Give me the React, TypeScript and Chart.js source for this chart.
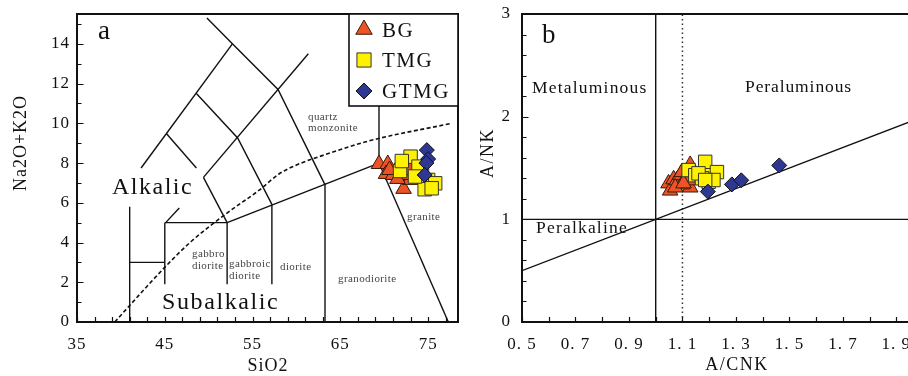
import React, { useEffect, useRef } from 'react';
import { Chart, registerables } from 'chart.js';

Chart.register(...registerables);

const FONT = "'Liberation Serif', 'Times New Roman', Times, serif";

// ---------------- Panel a : TAS (SiO2 vs Na2O+K2O) ----------------
const A_X_TICKS = [35, 45, 55, 65, 75];
const A_Y_TICKS = [0, 2, 4, 6, 8, 10, 12, 14];

const BG_SIO2 = [69.4, 70.4, 71.75, 70.2, 71.0, 72.2, 72.95, 73.3, 70.6, 72.5, 72.9, 71.5];
const BG_ALK = [7.95, 7.95, 7.95, 7.45, 7.4, 6.7, 7.15, 7.4, 7.65, 7.4, 7.65, 7.2];

const TMG_SIO2 = [73.0, 71.8, 74.3, 75.0, 75.8, 74.6, 75.4, 73.9, 72.0, 73.5];
const TMG_ALK = [8.32, 7.6, 7.49, 7.15, 6.98, 6.68, 6.73, 7.82, 8.1, 7.32];

const GTMG_SIO2 = [74.85, 75.0, 74.8, 74.6];
const GTMG_ALK = [8.65, 8.2, 8.0, 7.4];

// field boundaries (SiO2, Na2O+K2O)
const TAS_L1 = [[42.3, 7.75], [52.7, 14.0]];
const TAS_L2 = [[49.8, 15.3], [52.7, 14.0], [57.9, 11.7], [63.2, 6.95]];
const TAS_L3 = [[45.2, 9.47], [48.6, 7.75]];
const TAS_L4 = [[48.6, 11.5], [53.3, 9.26], [57.2, 5.92]];
const TAS_L5 = [[49.4, 7.28], [61.35, 13.5]];
const TAS_L6 = [[49.4, 7.28], [52.1, 5.0]];
const TAS_L7 = [[45.0, 5.0], [52.1, 5.0]];
const TAS_L8 = [[45.1, 5.0], [46.65, 5.74]];
const TAS_L9 = [[52.1, 5.0], [69.4, 8.0]];
const TAS_V41 = [[41, 0], [41, 5.8]];
const TAS_H3 = [[41, 3], [45, 3]];
const TAS_V45 = [[45, 1.9], [45, 5]];
const TAS_V52 = [[52.1, 1.9], [52.1, 5]];
const TAS_V57 = [[57.2, 1.9], [57.2, 5.92]];
const TAS_V63 = [[63.25, 0], [63.25, 6.98]];
const TAS_V69 = [[69.4, 8.0], [69.4, 12]];
const TAS_L17 = [[69.4, 8.0], [77.3, 0]];
const TAS_SOLID = [TAS_L1, TAS_L2, TAS_L3, TAS_L4, TAS_L5, TAS_L6, TAS_L7, TAS_L8, TAS_L9,
  TAS_V41, TAS_H3, TAS_V45, TAS_V52, TAS_V57, TAS_V63, TAS_V69, TAS_L17];
// Irvine & Baragar alkalic / subalkalic divide (dashed)
const IB_SIO2 = [39.3, 43.3, 45.1, 48.0, 52.05, 55.8, 58.0, 60.0, 63.8, 68.4, 77.7];
const IB_ALK = [0, 1.95, 2.8, 4.05, 5.47, 6.65, 7.45, 7.9, 8.5, 9.13, 10.0];

// ---------------- Panel b : A/NK vs A/CNK ----------------
const B_X_TICKS = [0.5, 0.7, 0.9, 1.1, 1.3, 1.5, 1.7, 1.9];
const B_Y_TICKS = [0, 1, 2, 3];

const BG_ACNK = [1.048, 1.054, 1.067, 1.079, 1.092, 1.098, 1.129, 1.129, 1.098, 1.073, 1.123, 1.104];
const BG_ANK = [1.35, 1.28, 1.39, 1.38, 1.43, 1.46, 1.53, 1.31, 1.34, 1.31, 1.38, 1.35];

const TMG_ACNK = [1.123, 1.185, 1.148, 1.204, 1.229, 1.198, 1.216, 1.173, 1.16, 1.185];
const TMG_ANK = [1.48, 1.56, 1.43, 1.43, 1.46, 1.366, 1.383, 1.40, 1.448, 1.383];

const GTMG_ACNK = [1.195, 1.285, 1.32, 1.462];
const GTMG_ANK = [1.27, 1.34, 1.38, 1.525];

const B_V1 = [[1.0, 0], [1.0, 3]];
const B_H1 = [[0.5, 1.0], [2.0, 1.0]];
const B_DIAG = [[0.5, 0.5], [2.0, 2.0]];
const B_DOT = [[1.1, 0], [1.1, 3]];

// ---------------- styles ----------------
const TRI_FILL = '#EC5428';
const SQ_FILL = '#FFF200';
const DIA_FILL = '#2E3891';

const zip = (xs: number[], ys: number[]) => xs.map((x, i) => ({ x, y: ys[i] }));
const pts = (arr: number[][]) => arr.map(([x, y]) => ({ x, y }));

function lineDs(arr: number[][], extra: any = {}) {
  return {
    data: pts(arr), showLine: true, pointRadius: 0, borderColor: '#111', borderWidth: 1.4,
    backgroundColor: 'transparent', fill: false, tension: 0, order: 10, ...extra,
  };
}

function markerSets(x1: number[], y1: number[], x2: number[], y2: number[], x3: number[], y3: number[]) {
  return [
    { label: 'BG', data: zip(x1, y1), pointStyle: 'triangle', pointRadius: 9, backgroundColor: TRI_FILL, borderColor: '#3a1a0a', borderWidth: 1, order: 3 },
    { label: 'TMG', data: zip(x2, y2), pointStyle: 'rect', pointRadius: 9.5, backgroundColor: SQ_FILL, borderColor: '#333', borderWidth: 1, order: 2 },
    { label: 'GTMG', data: zip(x3, y3), pointStyle: 'rectRot', pointRadius: 7.5, backgroundColor: DIA_FILL, borderColor: '#111', borderWidth: 1, order: 1 },
  ];
}

type TextItem = { text: string; x: number; y: number; size: number; color?: string; spacing?: number; rotate?: number; align?: CanvasTextAlign; baseline?: CanvasTextBaseline };

function drawText(ctx: any, t: TextItem) {
  ctx.save();
  ctx.font = `${t.size}px ${FONT}`;
  ctx.fillStyle = t.color || '#111';
  ctx.letterSpacing = `${t.spacing || 0}px`;
  ctx.textAlign = t.align || 'left';
  ctx.textBaseline = t.baseline || 'alphabetic';
  if (t.rotate) {
    ctx.translate(t.x, t.y);
    ctx.rotate(t.rotate);
    ctx.fillText(t.text, 0, 0);
  } else {
    ctx.fillText(t.text, t.x, t.y);
  }
  ctx.restore();
}

function drawMarker(ctx: any, style: string, x: number, y: number, r: number, fill: string, stroke: string) {
  ctx.save();
  ctx.beginPath();
  if (style === 'triangle') {
    ctx.moveTo(x, y - r);
    ctx.lineTo(x + Math.sin(2 * Math.PI / 3) * r, y + r / 2);
    ctx.lineTo(x - Math.sin(2 * Math.PI / 3) * r, y + r / 2);
  } else if (style === 'rect') {
    const s = Math.SQRT1_2 * r;
    ctx.rect(x - s, y - s, 2 * s, 2 * s);
  } else {
    ctx.moveTo(x - r, y); ctx.lineTo(x, y - r); ctx.lineTo(x + r, y); ctx.lineTo(x, y + r);
  }
  ctx.closePath();
  ctx.fillStyle = fill; ctx.fill();
  ctx.lineWidth = 1; ctx.strokeStyle = stroke; ctx.stroke();
  ctx.restore();
}

type Deco = {
  xMinorStep: number; yMinorStep: number; xMajor: number[]; yMajor: number[];
  drawRight: boolean; texts: TextItem[]; legend?: boolean;
};

function decoPlugin(d: Deco) {
  return {
    id: 'deco',
    beforeDraw(chart: any) {
      (chart.ctx as any).letterSpacing = '1px';
      const ctx = chart.ctx;
      ctx.save();
      ctx.fillStyle = '#fff';
      ctx.fillRect(0, 0, chart.width, chart.height);
      ctx.restore();
    },
    afterDraw(chart: any) {
      const ctx = chart.ctx;
      const xs = chart.scales.x, ys = chart.scales.y;
      const a = chart.chartArea;
      ctx.save();
      ctx.strokeStyle = '#111';
      // minor & major ticks, inward
      ctx.lineWidth = 1.2;
      ctx.beginPath();
      const eps = 1e-6;
      for (let v = xs.min; v <= xs.max + eps; v += d.xMinorStep) {
        const p = Math.round(xs.getPixelForValue(v)) + 0.5;
        ctx.moveTo(p, a.bottom); ctx.lineTo(p, a.bottom - 5);
      }
      for (let v = ys.min; v <= ys.max + eps; v += d.yMinorStep) {
        const p = Math.round(ys.getPixelForValue(v)) + 0.5;
        const major = d.yMajor.some((m) => Math.abs(m - v) < 1e-6);
        ctx.moveTo(a.left, p); ctx.lineTo(a.left + (major ? 6.5 : 4.5), p);
      }
      ctx.stroke();
      // frame
      ctx.lineWidth = 2;
      ctx.beginPath();
      ctx.moveTo(a.left, a.top); ctx.lineTo(a.right, a.top);
      ctx.moveTo(a.left, a.top - 1); ctx.lineTo(a.left, a.bottom + 1);
      ctx.moveTo(a.left - 1, a.bottom); ctx.lineTo(a.right + 1, a.bottom);
      if (d.drawRight) { ctx.moveTo(a.right, a.top - 1); ctx.lineTo(a.right, a.bottom + 1); }
      ctx.stroke();
      ctx.restore();

      if (d.legend) {
        const bx = 349, by = a.top, bw = a.right - 349, bh = 92;
        ctx.save();
        ctx.fillStyle = '#fff';
        ctx.fillRect(bx, by, bw, bh);
        ctx.lineWidth = 1.6;
        ctx.strokeStyle = '#111';
        ctx.strokeRect(bx, by, bw, bh);
        ctx.restore();
        const sets = chart.data.datasets.filter((s: any) => s.label);
        const rows = [29.5, 60, 91];
        sets.forEach((s: any, i: number) => {
          const r = s.pointStyle === 'triangle' ? 9.5 : s.pointStyle === 'rect' ? 10 : 8;
          drawMarker(ctx, s.pointStyle, 364, rows[i], r, s.backgroundColor, s.borderColor);
          drawText(ctx, { text: s.label, x: 382, y: rows[i] + 7, size: 21, spacing: 1.5 });
        });
      }
      d.texts.forEach((t) => drawText(ctx, t));
    },
  };
}

function axisOpts(min: number, max: number, ticksArr: number[], fixed: number, isX: boolean, fmt: (v: number) => string, padding: number) {
  return {
    type: 'linear',
    min, max,
    grid: { display: false, drawTicks: false },
    border: { display: false },
    afterBuildTicks: (scale: any) => { scale.ticks = ticksArr.map((v) => ({ value: v })); },
    afterFit: (scale: any) => {
      if (isX) scale.height = fixed; else scale.width = fixed;
      scale.paddingLeft = 0; scale.paddingRight = 0; scale.paddingTop = 0; scale.paddingBottom = 0;
    },
    ticks: {
      autoSkip: false, maxRotation: 0, minRotation: 0, padding,
      color: '#111',
      font: { family: FONT, size: 17 },
      callback: (v: any) => fmt(Number(v)),
    },
  };
}

function buildA() {
  const texts: TextItem[] = [
    { text: 'a', x: 98, y: 39, size: 27 },
    { text: 'Alkalic', x: 112, y: 194, size: 24, spacing: 1.5 },
    { text: 'Subalkalic', x: 162, y: 309, size: 24, spacing: 1.6 },
    { text: 'quartz', x: 308, y: 120, size: 11, color: '#444', spacing: 0.4 },
    { text: 'monzonite', x: 308, y: 131, size: 11, color: '#444', spacing: 0.4 },
    { text: 'gabbro', x: 192, y: 257, size: 11, color: '#444', spacing: 0.4 },
    { text: 'diorite', x: 192, y: 268.5, size: 11, color: '#444', spacing: 0.4 },
    { text: 'gabbroic', x: 229, y: 266.5, size: 11, color: '#444', spacing: 0.4 },
    { text: 'diorite', x: 229, y: 279, size: 11, color: '#444', spacing: 0.4 },
    { text: 'diorite', x: 280, y: 269.5, size: 11, color: '#444', spacing: 0.4 },
    { text: 'granodiorite', x: 338, y: 282, size: 11, color: '#444', spacing: 0.4 },
    { text: 'granite', x: 407, y: 219.5, size: 11, color: '#444', spacing: 0.4 },
    { text: 'Na2O+K2O', x: 21, y: 143, size: 18, spacing: 1, rotate: -Math.PI / 2, align: 'center', baseline: 'middle' },
    { text: 'SiO2', x: 268, y: 366, size: 18, spacing: 1, align: 'center', baseline: 'middle' },
  ];
  return {
    type: 'scatter',
    data: {
      datasets: [
        ...markerSets(BG_SIO2, BG_ALK, TMG_SIO2, TMG_ALK, GTMG_SIO2, GTMG_ALK),
        ...TAS_SOLID.map((l) => lineDs(l)),
        { ...lineDs(IB_SIO2.map((x, i) => [x, IB_ALK[i]]), { borderDash: [4, 2.5], borderWidth: 1.6, cubicInterpolationMode: 'monotone' }) },
      ],
    },
    options: {
      responsive: false, animation: false, events: [],
      layout: { autoPadding: false, padding: { top: 14, right: 2, left: 0, bottom: 0 } },
      plugins: { legend: { display: false }, tooltip: { enabled: false } },
      scales: {
        x: axisOpts(35, 78.4, A_X_TICKS, 54, true, (v) => String(v), 12),
        y: axisOpts(0, 15.5, A_Y_TICKS, 77, false, (v) => String(v), 7),
      },
    },
    plugins: [decoPlugin({ xMinorStep: 2, yMinorStep: 1, xMajor: A_X_TICKS, yMajor: A_Y_TICKS, drawRight: true, texts, legend: true })],
  };
}

function buildB() {
  const texts: TextItem[] = [
    { text: 'b', x: 82, y: 43, size: 27 },
    { text: 'Metaluminous', x: 72, y: 93, size: 17.5, spacing: 1.2 },
    { text: 'Peraluminous', x: 285, y: 92, size: 17.5, spacing: 0.9 },
    { text: 'Peralkaline', x: 76, y: 233, size: 17.5, spacing: 1.2 },
    { text: 'A/NK', x: 28, y: 153, size: 18, spacing: 1.5, rotate: -Math.PI / 2, align: 'center', baseline: 'middle' },
    { text: 'A/CNK', x: 277, y: 365, size: 18, spacing: 1.5, align: 'center', baseline: 'middle' },
  ];
  return {
    type: 'scatter',
    data: {
      datasets: [
        ...markerSets(BG_ACNK, BG_ANK, TMG_ACNK, TMG_ANK, GTMG_ACNK, GTMG_ANK),
        lineDs(B_V1),
        lineDs(B_H1),
        lineDs(B_DIAG),
        lineDs(B_DOT, { borderDash: [1.5, 3], borderWidth: 1.5, borderColor: '#333' }),
      ],
    },
    options: {
      responsive: false, animation: false, events: [],
      layout: { autoPadding: false, padding: { top: 14, right: 0, left: 0, bottom: 0 } },
      plugins: { legend: { display: false }, tooltip: { enabled: false } },
      scales: {
        x: axisOpts(0.5, 1.9435, B_X_TICKS, 54, true, (v) => v.toFixed(1).replace('.', '. '), 12),
        y: axisOpts(0, 3, B_Y_TICKS, 62, false, (v) => String(v), 11),
      },
    },
    plugins: [decoPlugin({ xMinorStep: 0.1, yMinorStep: 0.2, xMajor: B_X_TICKS, yMajor: B_Y_TICKS, drawRight: false, texts })],
  };
}

function Panel({ build, left, width }: { build: () => any; left: number; width: number }) {
  const ref = useRef<HTMLCanvasElement | null>(null);
  useEffect(() => {
    if (!ref.current) return;
    const chart = new Chart(ref.current, build());
    return () => chart.destroy();
  }, [build]);
  return (
    <canvas
      ref={ref}
      width={width}
      height={376}
      style={{ position: 'absolute', left, top: 0, width, height: 376, display: 'block' }}
    />
  );
}

export default function App() {
  return (
    <div style={{ position: 'fixed', left: 0, top: 0, width: 908, height: 376, background: '#fff', overflow: 'hidden' }}>
      <Panel build={buildA} left={0} width={460} />
      <Panel build={buildB} left={460} width={448} />
    </div>
  );
}
